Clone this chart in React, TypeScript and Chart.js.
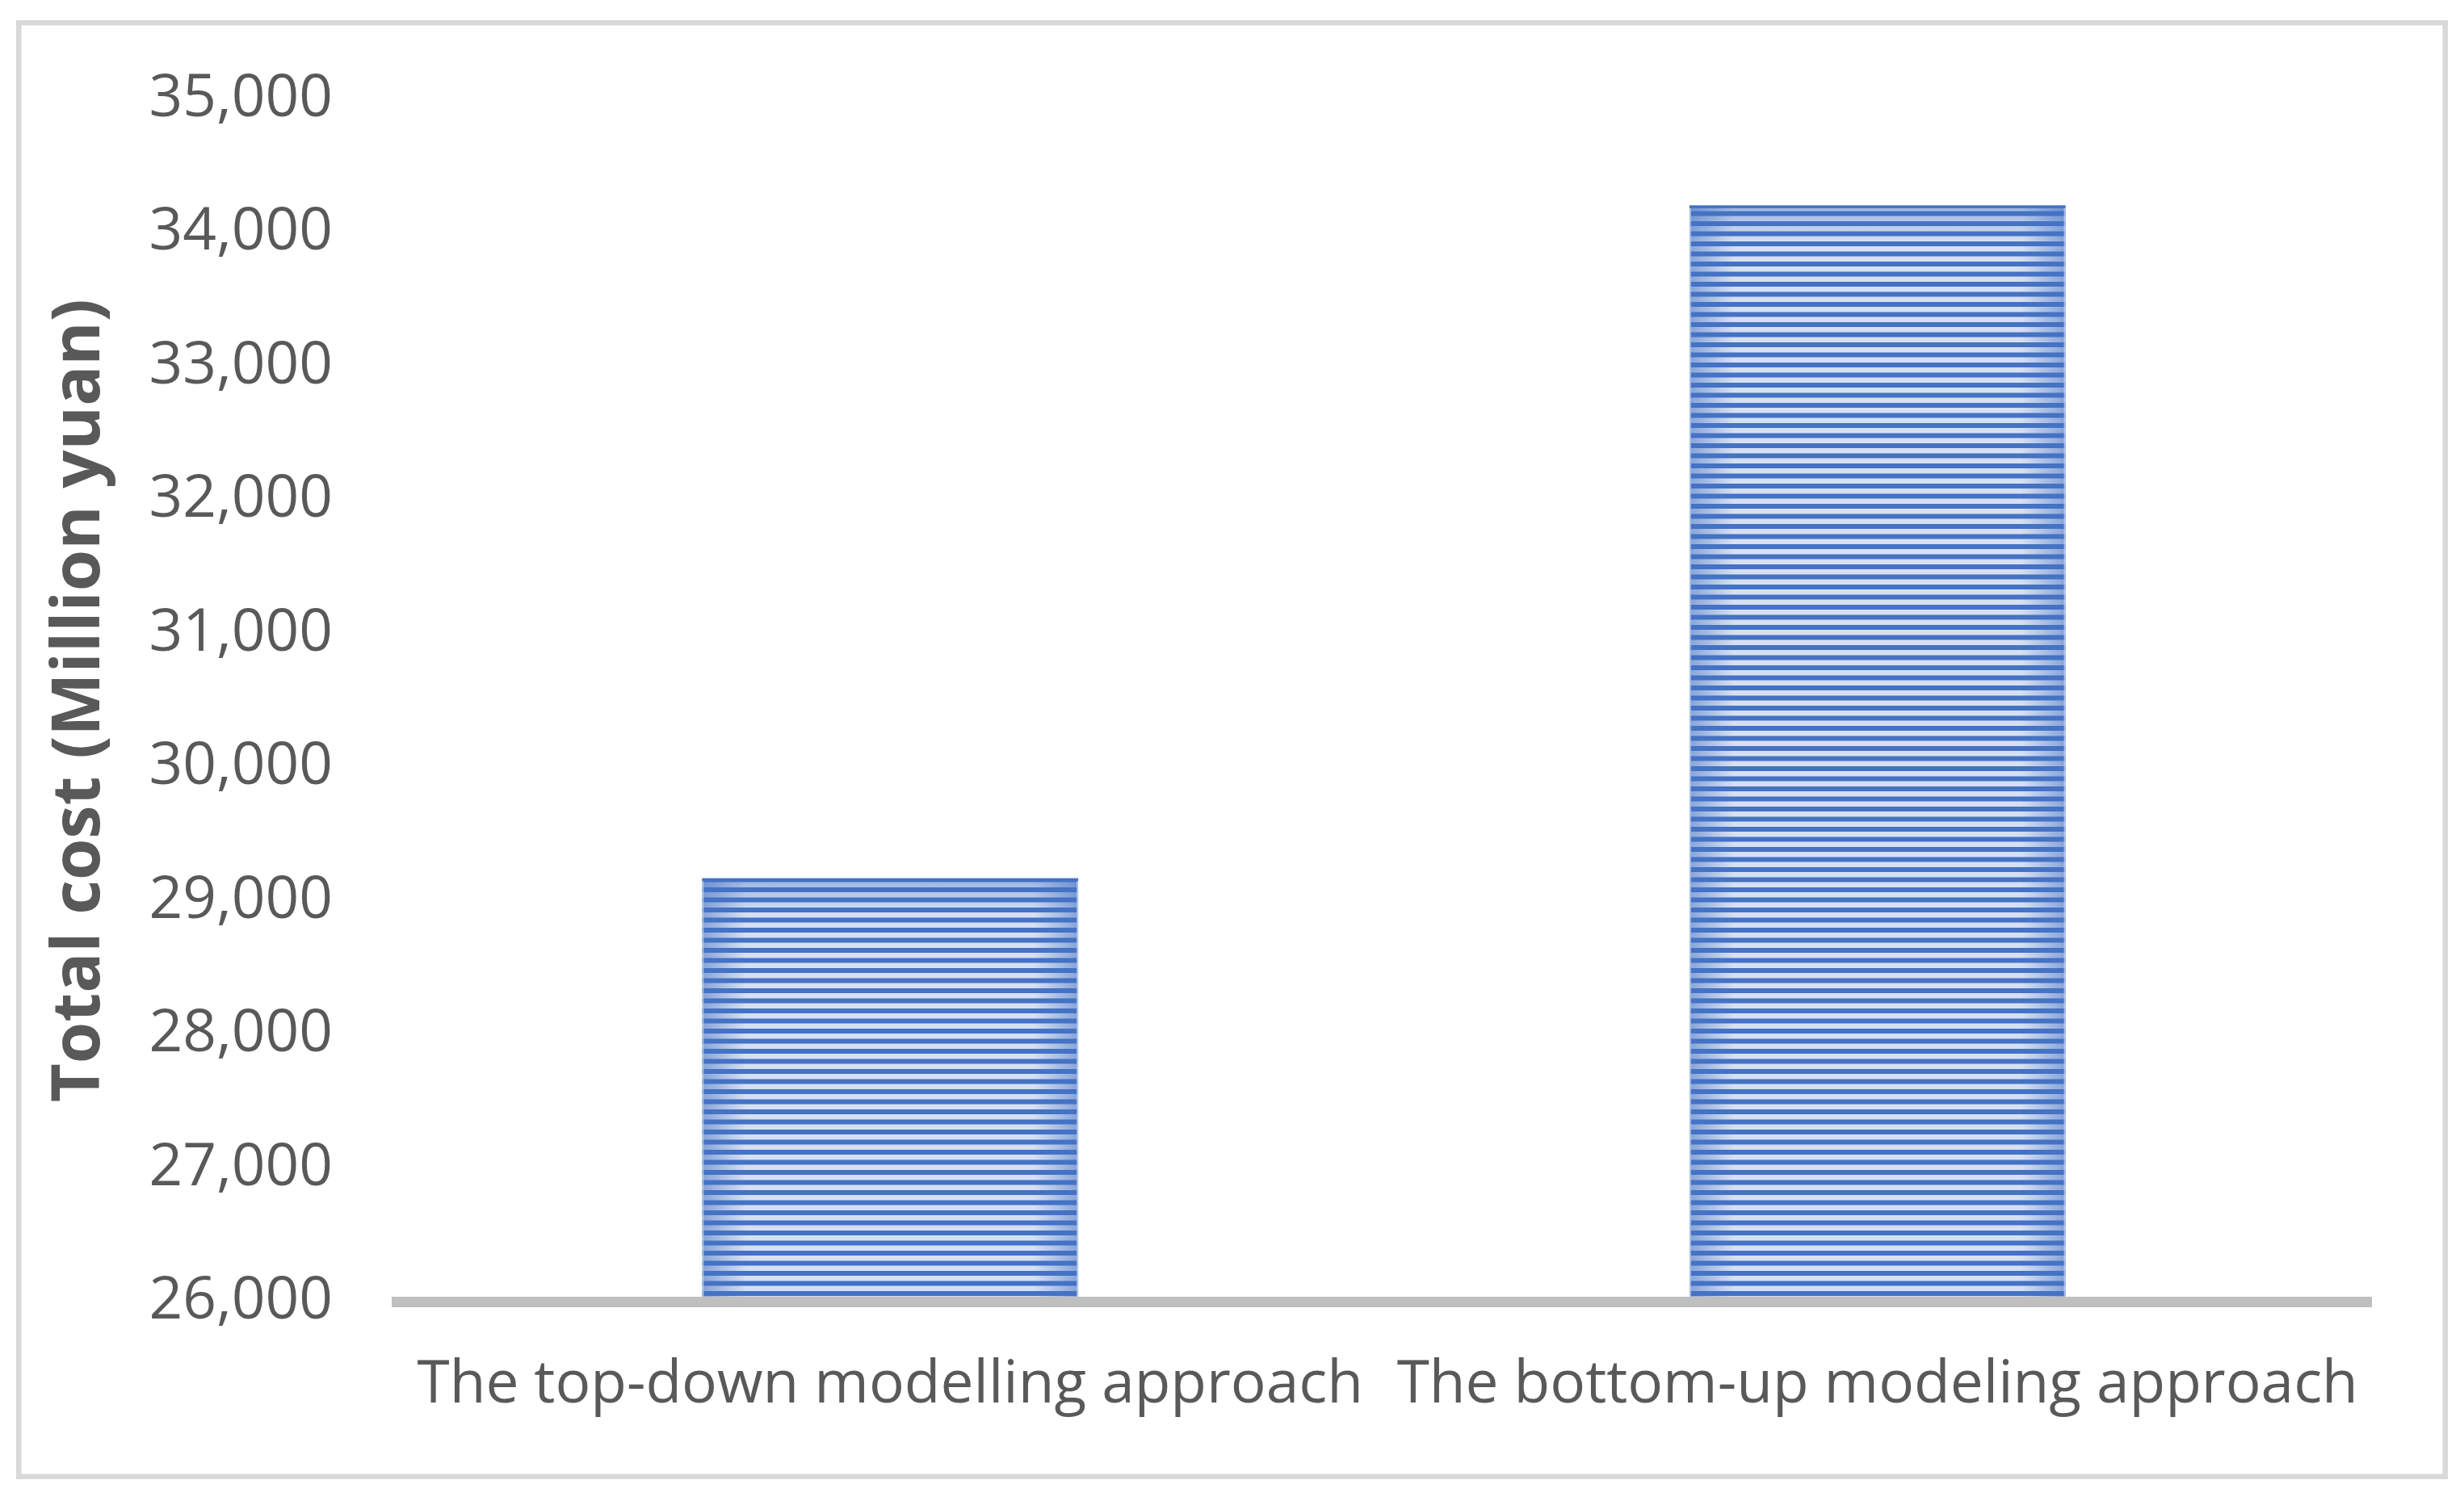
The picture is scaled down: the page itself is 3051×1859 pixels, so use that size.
import React, { useEffect, useRef } from "react";
import { Chart, registerables } from "chart.js";

Chart.register(...registerables);

const categories: string[] = [
  "The top-down modelling approach",
  "The bottom-up modeling approach",
];
const totalCost: number[] = [29170, 34205];
const yMin = 26000;
const yMax = 35000;
const yStep = 1000;
const yTitle = "Total cost (Million yuan)";

const TEXT = "#595959";
const DARK = "#4472c4";
const LIGHT = "#d7e0f2";

const frameAndStripes = {
  id: "frameAndStripes",
  beforeDraw(chart: any) {
    const { ctx, width, height } = chart;
    ctx.save();
    ctx.fillStyle = "#ffffff";
    ctx.fillRect(0, 0, width, height);
    ctx.strokeStyle = "#d9d9d9";
    ctx.lineWidth = 6.5;
    ctx.strokeRect(23.25, 28.25, width - 46.5, height - 58.5);
    ctx.restore();
  },
  afterDatasetsDraw(chart: any) {
    const { ctx, chartArea } = chart;
    const meta = chart.getDatasetMeta(0);
    meta.data.forEach((el: any) => {
      const p = el.getProps(["x", "y", "base", "width"], true);
      const left = p.x - p.width / 2;
      const right = p.x + p.width / 2;
      const top = Math.max(chartArea.top, Math.min(p.y, p.base));
      const bottom = Math.min(chartArea.bottom, Math.max(p.y, p.base));
      const w = right - left;
      ctx.save();
      ctx.beginPath();
      ctx.rect(left, top, w, bottom - top);
      ctx.clip();
      const edge = 55;
      const gl = ctx.createLinearGradient(left, 0, left + edge, 0);
      gl.addColorStop(0, "rgba(68,114,196,0.55)");
      gl.addColorStop(1, "rgba(68,114,196,0)");
      ctx.fillStyle = gl;
      ctx.fillRect(left, top, edge, bottom - top);
      const gr = ctx.createLinearGradient(right - edge, 0, right, 0);
      gr.addColorStop(0, "rgba(68,114,196,0)");
      gr.addColorStop(1, "rgba(68,114,196,0.55)");
      ctx.fillStyle = gr;
      ctx.fillRect(right - edge, top, edge, bottom - top);
      const gt = ctx.createLinearGradient(0, top, 0, top + 45);
      gt.addColorStop(0, "rgba(68,114,196,0.4)");
      gt.addColorStop(1, "rgba(68,114,196,0)");
      ctx.fillStyle = gt;
      ctx.fillRect(left, top, w, 45);
      ctx.fillStyle = DARK;
      const period = 12.5;
      for (let yb = bottom - 7.5; yb > top - period; yb -= period) {
        ctx.fillRect(left, yb - 6, w, 6);
      }
      ctx.strokeStyle = "rgba(180,199,231,0.9)";
      ctx.lineWidth = 2;
      ctx.strokeRect(left + 1, top + 1, w - 2, bottom - top - 2);
      ctx.fillStyle = DARK;
      ctx.fillRect(left, top, w, 3.5);
      ctx.restore();
    });
  },
};

export default function App() {
  const ref = useRef<HTMLCanvasElement | null>(null);
  useEffect(() => {
    if (!ref.current) return;
    const chart = new Chart(ref.current, {
      type: "bar",
      data: {
        labels: categories,
        datasets: [
          {
            data: totalCost,
            backgroundColor: LIGHT,
            borderWidth: 0,
            barPercentage: 1,
            categoryPercentage: 0.381,
          },
        ],
      },
      options: {
        animation: false,
        responsive: true,
        maintainAspectRatio: false,
        devicePixelRatio: 1,
        layout: { padding: { top: 117.5, right: 115, left: 0, bottom: 0 } },
        plugins: {
          legend: { display: false },
          tooltip: { enabled: false },
        },
        scales: {
          x: {
            grid: { display: false, drawTicks: false },
            border: { display: true, color: "#bfbfbf", width: 13, z: 1 },
            ticks: {
              color: TEXT,
              font: { family: "'Open Sans'", size: 73 },
              padding: 60,
              maxRotation: 0,
              minRotation: 0,
              autoSkip: false,
            },
            afterFit(scale: any) {
              scale.height = 246.5;
            },
          },
          y: {
            min: yMin,
            max: yMax,
            grid: { display: false, drawTicks: false },
            border: { display: false },
            ticks: {
              stepSize: yStep,
              color: TEXT,
              font: { family: "'Open Sans'", size: 73 },
              padding: 79,
              callback: (v: any) => Number(v).toLocaleString("en-US"),
            },
            title: {
              display: true,
              text: yTitle,
              color: TEXT,
              font: { family: "'Open Sans'", size: 83, weight: "bold" },
              padding: { top: 50, bottom: 0 },
            },
            afterFit(scale: any) {
              scale.width = 491;
            },
          },
        },
      },
      plugins: [frameAndStripes],
    });
    return () => chart.destroy();
  }, []);
  return (
    <div
      style={{
        position: "fixed",
        left: 0,
        top: 0,
        width: "3051px",
        height: "1859px",
        background: "#fff",
      }}
    >
      <canvas ref={ref} />
    </div>
  );
}
